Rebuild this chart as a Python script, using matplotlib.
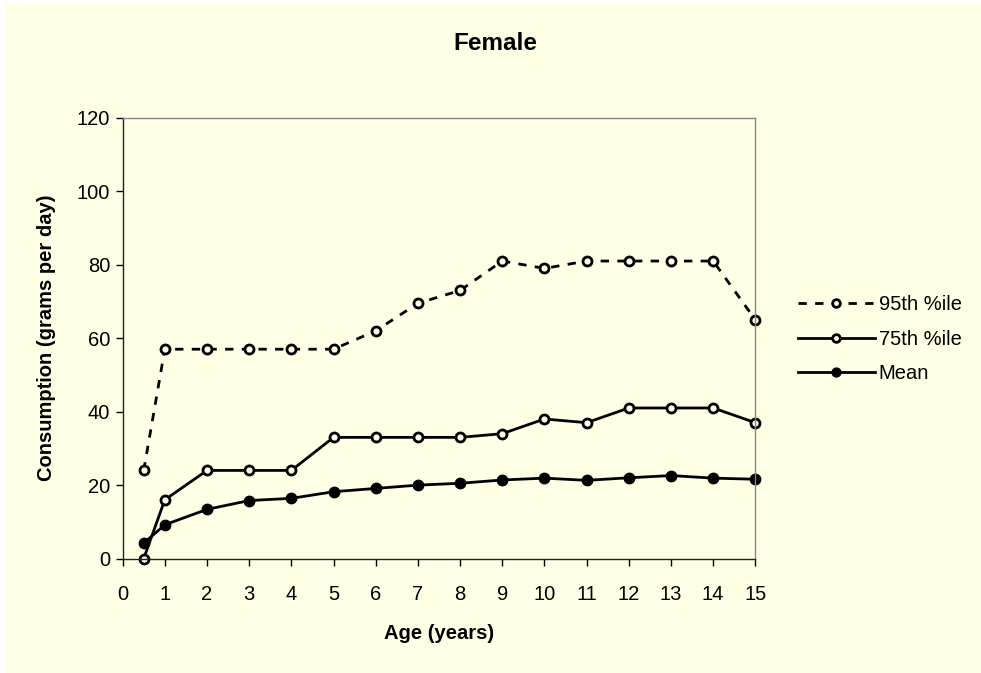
import matplotlib
matplotlib.use("Agg")
import matplotlib.pyplot as plt
from matplotlib.patches import Rectangle

plt.rcParams['font.family'] = ['Liberation Sans', 'DejaVu Sans']

ages = [0.5, 1, 2, 3, 4, 5, 6, 7, 8, 9, 10, 11, 12, 13, 14, 15]
p95 = [24, 57, 57, 57, 57, 57, 62, 69.5, 73, 81, 79, 81, 81, 81, 81, 65]
p75 = [0, 16, 24, 24, 24, 33, 33, 33, 33, 34, 38, 37, 41, 41, 41, 37]
mean = [4.2, 9.2, 13.4, 15.8, 16.4, 18.2, 19.1, 20.0, 20.5, 21.4, 21.9, 21.3, 22.0, 22.6, 21.9, 21.6]
series_names = ['95th %ile', '75th %ile', 'Mean']
x_ticks = list(range(0, 16))
y_ticks = [0, 20, 40, 60, 80, 100, 120]

bg = '#FFFFE6'

fig = plt.figure(figsize=(9.81, 6.73), dpi=100, facecolor='white')
fig.patches.append(Rectangle((6 / 981, 0), 1, 1 - 3 / 673, transform=fig.transFigure,
                             facecolor=bg, edgecolor='none', zorder=-10))
ax = fig.add_axes([0.125, 0.170, 0.645, 0.655])
ax.set_facecolor(bg)

ax.plot(ages, p95, color='black', lw=2, dashes=(3.0, 3.0), marker='o', ms=6.5,
        mew=2, mfc=bg, mec='black', clip_on=False, label=series_names[0])
ax.plot(ages, p75, color='black', lw=2, marker='o', ms=6.5,
        mew=2, mfc=bg, mec='black', clip_on=False, label=series_names[1])
ax.plot(ages, mean, color='black', lw=2, marker='o', ms=7.5,
        mew=1, mfc='black', mec='black', clip_on=False, label=series_names[2])

ax.set_xlim(0, 15)
ax.set_ylim(0, 120)
ax.set_xticks(x_ticks)
ax.set_yticks(y_ticks)
ax.tick_params(axis='x', direction='out', length=5, width=1, labelsize=14.5, pad=14)
ax.tick_params(axis='y', direction='out', length=5, width=1, labelsize=14.5, pad=4)

for side in ['left', 'bottom']:
    ax.spines[side].set_color('#222222')
    ax.spines[side].set_linewidth(1)
for side in ['top', 'right']:
    ax.spines[side].set_color('#888888')
    ax.spines[side].set_linewidth(1)

ax.set_xlabel('Age (years)', fontsize=14.5, fontweight='bold')
ax.xaxis.set_label_coords(0.5, -0.148)
ax.set_ylabel('Consumption (grams per day)', fontsize=14.5, fontweight='bold')
ax.yaxis.set_label_coords(-0.106, 0.5)

fig.text(495 / 981, 1 - 43 / 673, 'Female', ha='center', va='center',
         fontsize=17.5, fontweight='bold')

fig.legend(loc='upper left', bbox_to_anchor=(798 / 981, 1 - 295 / 673), frameon=False,
           fontsize=14.5, handlelength=3.8, handletextpad=0.2, labelspacing=0.78,
           borderpad=0, borderaxespad=0, markerscale=0.85)

fig.savefig('out.png', dpi=100, facecolor=fig.get_facecolor())
